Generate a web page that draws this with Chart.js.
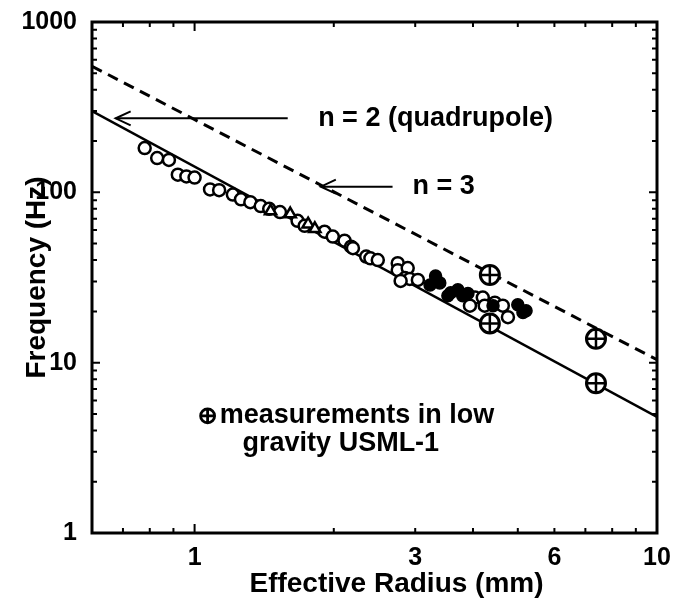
<!DOCTYPE html>
<html>
<head>
<meta charset="utf-8">
<script src="https://cdn.jsdelivr.net/npm/chart.js@4.4.1/dist/chart.umd.min.js"></script>
<style>
  html, body { margin: 0; padding: 0; background: #fff; }
</style>
</head>
<body>
<canvas id="c" width="679" height="610"></canvas>
<script>
// axis ticks
const X_TICKS = [0.7, 0.8, 0.9, 1, 2, 3, 4, 5, 6, 7, 8, 9, 10];
const X_LABELS = [1, 3, 6, 10];
const Y_TICKS = [1, 2, 3, 4, 5, 6, 7, 8, 9, 10, 20, 30, 40, 50, 60, 70, 80, 90,
                 100, 200, 300, 400, 500, 600, 700, 800, 900, 1000];
const Y_LABELS = [1, 10, 100, 1000];

// ground measurements (open circles)
const OPEN_R = [0.78, 0.83, 0.88, 0.92, 0.96, 1.0, 1.08, 1.13, 1.21, 1.26, 1.32, 1.39, 1.45, 1.53, 1.67,
                1.73, 1.91, 1.99, 2.11, 2.18, 2.2, 2.35, 2.4, 2.49, 2.75, 2.75, 2.89, 2.85, 2.92,
                3.04, 2.79, 4.04, 4.2, 3.94, 4.24, 4.46, 4.64, 4.76];
const OPEN_F = [182, 159, 155, 127, 124, 122, 104, 103, 97, 91, 87.5, 83, 80, 76.6, 68,
                63.6, 58.7, 55, 52, 48, 47, 42, 41, 40, 38.4, 34.9, 35.9, 31.4, 31,
                30.6, 30.2, 24.1, 24.1, 21.6, 21.6, 22.5, 21.6, 18.5];
// triangles
const TRI_R = [1.46, 1.61, 1.76, 1.82];
const TRI_F = [77.6, 74.6, 65, 61.1];
// filled circles
const FILLED_R = [3.32, 3.39, 3.23, 3.71, 3.58, 3.8, 3.53, 3.9, 4.42, 5.0, 5.13, 5.21];
const FILLED_F = [32.3, 29.4, 28.6, 26.8, 25.7, 24.7, 24.7, 25.5, 21.6, 21.9, 19.7, 20.2];
// low gravity USML-1
const USML_R = [4.35, 4.35, 7.38, 7.38];
const USML_F = [32.7, 17.0, 13.8, 7.57];

// theory lines
const N2_R = [0.6, 10];
const N2_F = [300, 4.8];
const N3_R = [0.6, 10];
const N3_F = [550, 10.4];

// annotation arrows (tip first) and labels
const ARROW_N2_R = [0.675, 1.59];
const ARROW_N2_F = [272, 272];
const ARROW_N3_R = [1.875, 2.68];
const ARROW_N3_F = [108, 108];
const LABELS = [
  { text: 'n = 2 (quadrupole)', r: 1.85, f: 272 },
  { text: 'n = 3', r: 2.96, f: 108 },
  { text: 'measurements in low', r: 1.133, f: 4.87 },
  { text: 'gravity USML-1', r: 1.27, f: 3.36 },
];
const NOTE_SYMBOL = { r: 1.067, f: 4.87 };

const FONT = '"Liberation Sans", Arial, Helvetica, sans-serif';
const pts = (xs, ys) => xs.map((v, i) => ({ x: v, y: ys[i] }));

const decor = {
  id: 'decor',
  afterDatasetsDraw(chart) {
    const { ctx, chartArea: a, scales: { x, y } } = chart;
    ctx.save();
    ctx.strokeStyle = '#000';
    ctx.fillStyle = '#000';

    ctx.lineWidth = 3;
    ctx.strokeRect(a.left, a.top, a.right - a.left, a.bottom - a.top);

    // inward tick marks on all four sides
    ctx.lineWidth = 2;
    ctx.beginPath();
    X_TICKS.forEach(v => {
      const px = x.getPixelForValue(v);
      const len = v === 1 || v === 10 ? 9 : 5;
      ctx.moveTo(px, a.bottom); ctx.lineTo(px, a.bottom - len);
      ctx.moveTo(px, a.top); ctx.lineTo(px, a.top + len);
    });
    Y_TICKS.forEach(v => {
      const py = y.getPixelForValue(v);
      const len = Y_LABELS.includes(v) ? 8 : 5;
      ctx.moveTo(a.left, py); ctx.lineTo(a.left + len, py);
      ctx.moveTo(a.right, py); ctx.lineTo(a.right - len, py);
    });
    ctx.stroke();

    // arrow heads
    [[ARROW_N2_R, ARROW_N2_F], [ARROW_N3_R, ARROW_N3_F]].forEach(([rs, fs]) => {
      const tx = x.getPixelForValue(rs[0]);
      const ty = y.getPixelForValue(fs[0]);
      ctx.beginPath();
      ctx.moveTo(tx + 15, ty - 7); ctx.lineTo(tx, ty); ctx.lineTo(tx + 15, ty + 7);
      ctx.stroke();
    });

    // labels
    ctx.font = 'bold 27px ' + FONT;
    ctx.textBaseline = 'middle';
    ctx.textAlign = 'left';
    LABELS.forEach(l => {
      ctx.fillText(l.text, x.getPixelForValue(l.r), y.getPixelForValue(l.f));
    });

    // circled plus in the note
    const sx = x.getPixelForValue(NOTE_SYMBOL.r);
    const sy = y.getPixelForValue(NOTE_SYMBOL.f);
    ctx.lineWidth = 2.8;
    ctx.beginPath();
    ctx.arc(sx, sy, 7, 0, Math.PI * 2);
    ctx.moveTo(sx - 7, sy); ctx.lineTo(sx + 7, sy);
    ctx.moveTo(sx, sy - 7); ctx.lineTo(sx, sy + 7);
    ctx.stroke();

    // x axis title
    ctx.font = 'bold 28px ' + FONT;
    ctx.textAlign = 'center';
    ctx.fillText('Effective Radius (mm)', (a.left + a.right) / 2 + 22, 584);
    ctx.restore();
  }
};

const marker = (label, rs, fs, style, radius, fill, width) => ({
  label, data: pts(rs, fs), pointStyle: style, pointRadius: radius,
  pointBackgroundColor: fill, pointBorderColor: '#000', pointBorderWidth: width, showLine: false,
});
const line = (label, rs, fs, dash, width) => ({
  label, data: pts(rs, fs), showLine: true, borderColor: '#000', borderWidth: width,
  borderDash: dash, pointRadius: 0,
});

new Chart(document.getElementById('c'), {
  type: 'scatter',
  data: {
    datasets: [
      marker('USML-1 cross', USML_R, USML_F, 'cross', 9, '#000', 2.5),
      marker('USML-1', USML_R, USML_F, 'circle', 9.5, '#fff', 3),
      marker('filled', FILLED_R, FILLED_F, 'circle', 6, '#000', 1.5),
      marker('triangles', TRI_R, TRI_F, 'triangle', 6.5, '#fff', 2.5),
      marker('ground', OPEN_R, OPEN_F, 'circle', 6, '#fff', 2.5),
      line('arrow n=2', ARROW_N2_R, ARROW_N2_F, [], 2),
      line('arrow n=3', ARROW_N3_R, ARROW_N3_F, [], 2),
      line('n = 3', N3_R, N3_F, [11, 7], 3),
      line('n = 2', N2_R, N2_F, [], 2.5),
    ],
  },
  options: {
    responsive: false,
    animation: false,
    layout: { padding: { top: 15, right: 22, bottom: 0, left: 0 } },
    plugins: { legend: { display: false }, tooltip: { enabled: false } },
    scales: {
      x: {
        type: 'logarithmic', min: 0.6, max: 10,
        afterBuildTicks: s => { s.ticks = X_TICKS.map(v => ({ value: v })); },
        afterFit: s => { s.height = 77; },
        grid: { display: false },
        border: { display: false },
        ticks: {
          autoSkip: false, maxRotation: 0, padding: 2, color: '#000',
          font: { size: 25, family: FONT, weight: 'bold' },
          callback: v => X_LABELS.includes(v) ? String(v) : '',
        },
      },
      y: {
        type: 'logarithmic', min: 1, max: 1000,
        afterBuildTicks: s => { s.ticks = Y_TICKS.map(v => ({ value: v })); },
        afterFit: s => { s.width = 92; },
        grid: { display: false },
        border: { display: false },
        title: {
          display: true, text: 'Frequency (Hz)', color: '#000',
          font: { size: 28, family: FONT, weight: 'bold' }, padding: { top: 20, bottom: 0 },
        },
        ticks: {
          autoSkip: false, padding: 7, color: '#000',
          font: { size: 25, family: FONT, weight: 'bold' },
          callback: v => Y_LABELS.includes(v) ? String(v) : '',
        },
      },
    },
  },
  plugins: [decor],
});
</script>
</body>
</html>
